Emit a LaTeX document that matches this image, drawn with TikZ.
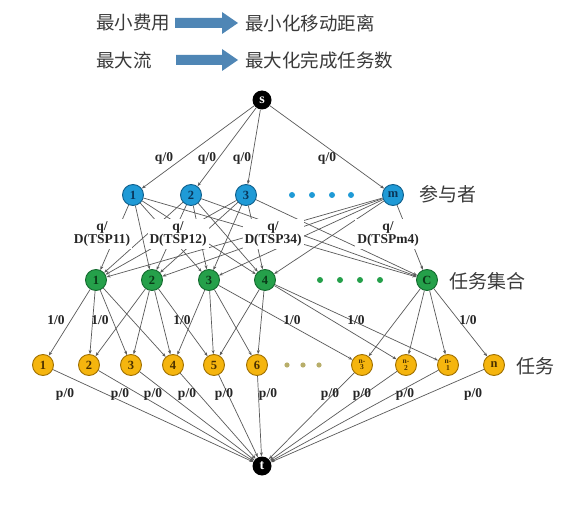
\documentclass[tikz,border=0pt]{standalone}
\usepackage{fontspec}
\setmainfont{Liberation Serif}
\newfontfamily\cjk{Noto Sans CJK SC}
\usetikzlibrary{arrows.meta}
\definecolor{bluefill}{HTML}{1F9AD6}
\definecolor{blueline}{HTML}{0F5F8C}
\definecolor{bluetext}{HTML}{0A3558}
\definecolor{greenfill}{HTML}{25A04A}
\definecolor{greenline}{HTML}{136A2E}
\definecolor{greentext}{HTML}{0A3A18}
\definecolor{yellowfill}{HTML}{F5B50E}
\definecolor{yellowline}{HTML}{A07000}
\definecolor{yellowtext}{HTML}{4A3000}
\definecolor{yellowdot}{HTML}{B8AE6A}
\definecolor{edgegray}{HTML}{5A5A5A}
\definecolor{arrowblue}{HTML}{4F86B5}
\definecolor{txtgray}{HTML}{3A3A3A}
\tikzset{
  base/.style={circle, inner sep=0pt, minimum size=21pt, line width=0.9pt, font=\bfseries\fontsize{12.5}{12.5}\selectfont},
  pnode/.style={base, draw=blueline, fill=bluefill, text=bluetext},
  gnode/.style={base, draw=greenline, fill=greenfill, text=greentext},
  ynode/.style={base, draw=yellowline, fill=yellowfill, text=yellowtext},
  stnode/.style={circle, inner sep=0pt, minimum size=19pt, fill=black, text=white, font=\bfseries\fontsize{14}{14}\selectfont},
  flow/.style={draw=edgegray, line width=0.7pt, -{Stealth[length=4pt,width=3pt]}},
  lbl/.style={font=\bfseries\fontsize{13.5}{13.5}\selectfont, text=black!85, inner sep=1pt},
  lblw/.style={lbl, fill=white, align=center, inner sep=2pt},
  cjklabel/.style={font=\cjk\fontsize{19}{19}\selectfont, text=txtgray, anchor=west, inner sep=0pt},
  toptext/.style={font=\cjk\fontsize{18.5}{18.5}\selectfont, text=txtgray, anchor=west, inner sep=0pt},
  bigarrow/.style={fill=arrowblue},
  tiny/.style={font=\bfseries\fontsize{7.5}{6.5}\selectfont, align=center, inner sep=0pt}
}
\begin{document}
\begin{tikzpicture}[x=1pt,y=-1pt]
\useasboundingbox (0,0) rectangle (584,508);
\fill[white] (0,0) rectangle (584,508);
% header
\node[toptext] (h1a) at (96,23) {最小费用};
\node[toptext] (h1b) at (245,23) {最小化移动距离};
\node[toptext] (h2a) at (96,60) {最大流};
\node[toptext] (h2b) at (245,60) {最大化完成任务数};
\fill[bigarrow] (175,18) -- (222,18) -- (222,12) -- (238,23) -- (222,34) -- (222,28) -- (175,28) -- cycle;
\fill[bigarrow] (176,55) -- (222,55) -- (222,49) -- (238,60) -- (222,71) -- (222,65) -- (176,65) -- cycle;
% nodes
\node[stnode] (s) at (262,100) {s};
\node[stnode] (t) at (262,466) {t};
\node[pnode] (b1) at (133,195) {1};
\node[pnode] (b2) at (191,195) {2};
\node[pnode] (b3) at (246,195) {3};
\node[pnode] (bm) at (393,195) {m};
\foreach \x in {292,312,332,351} \fill[bluefill] (\x,195) circle (3pt);
\node[gnode] (g1) at (96,280) {1};
\node[gnode] (g2) at (152,280) {2};
\node[gnode] (g3) at (209,280) {3};
\node[gnode] (g4) at (265,280) {4};
\node[gnode] (gC) at (427,280) {C};
\foreach \x in {320,340,360,380} \fill[greenfill] (\x,280) circle (3pt);
\node[ynode] (y1) at (43,365) {1};
\node[ynode] (y2) at (89,365) {2};
\node[ynode] (y3) at (131,365) {3};
\node[ynode] (y4) at (173,365) {4};
\node[ynode] (y5) at (214,365) {5};
\node[ynode] (y6) at (257,365) {6};
\foreach \x in {287,303,319} \fill[yellowdot] (\x,365) circle (2.6pt);
\node[ynode] (yn3) at (362,365) {};
\node[tiny, text=yellowtext] (tn3) at (yn3) {n-\\3};
\node[ynode] (yn2) at (406,365) {};
\node[tiny, text=yellowtext] (tn2) at (yn2) {n-\\2};
\node[ynode] (yn1) at (448,365) {};
\node[tiny, text=yellowtext] (tn1) at (yn1) {n-\\1};
\node[ynode] (yn) at (494,365) {n};
% side labels
\node[cjklabel] (lp) at (419,194) {参与者};
\node[cjklabel] (lg) at (449,281) {任务集合};
\node[cjklabel] (ly) at (516,366) {任务};
% s -> participants
\foreach \b in {b1,b2,b3,bm} \draw[flow] (s) -- (\b);
% participants -> task sets
\foreach \b in {b1,b2,b3,bm}
  \foreach \g in {g1,g2,g3,g4,gC}
    \draw[flow] (\b) -- (\g);
% task sets -> tasks
\foreach \a/\c in {g1/y1,g1/y2,g1/y3,g1/y4,g2/y2,g2/y3,g2/y4,g2/y5,g3/y4,g3/y5,g3/y6,g3/yn3,g4/y5,g4/y6,g4/yn2,g4/yn1,gC/yn3,gC/yn2,gC/yn1,gC/yn}
  \draw[flow] (\a) -- (\c);
% tasks -> t
\foreach \y in {y1,y2,y3,y4,y5,y6,yn3,yn2,yn1,yn} \draw[flow] (\y) -- (t);
% labels
\node[lbl] (q1) at (164,158) {q/0};
\node[lbl] (q2) at (207,158) {q/0};
\node[lbl] (q3) at (242,158) {q/0};
\node[lbl] (q4) at (327,158) {q/0};
\node[lblw] (d1) at (102,234) {q/\\D(TSP11)};
\node[lblw] (d2) at (178,234) {q/\\D(TSP12)};
\node[lblw] (d3) at (273,234) {q/\\D(TSP34)};
\node[lblw] (d4) at (388,234) {q/\\D(TSPm4)};
\foreach \x/\n in {56/1,100/2,182/3,292/4,356/5,468/6} \node[lbl] (o\n) at (\x,320) {1/0};
\foreach \x/\n in {65/1,120/2,153/3,187/4,224/5,268/6,330/7,362/8,405/9,473/10} \node[lbl] (p\n) at (\x,394) {p/0};
\end{tikzpicture}
\end{document}
